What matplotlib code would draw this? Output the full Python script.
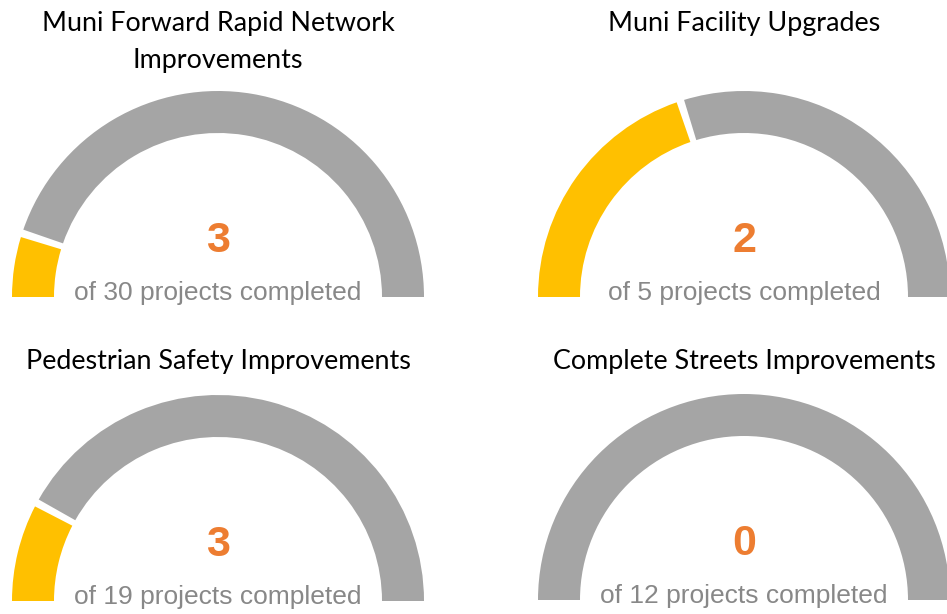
import matplotlib
matplotlib.use("Agg")
import matplotlib.pyplot as plt
from matplotlib.patches import Wedge

# --- data ---
titles = [
    "Muni Forward Rapid Network\nImprovements",
    "Muni Facility Upgrades",
    "Pedestrian Safety Improvements",
    "Complete Streets Improvements",
]
completed = [3, 2, 3, 0]
totals = [30, 5, 19, 12]

# layout (pixels, y measured from top)
W, H = 947, 614
centers = [(218, 297), (744, 297), (218, 601), (744, 600)]
title_y = [42, 23, 362, 362]
R_OUT = 206
RING = 42
GAP_PX = 7

GOLD = "#FFC000"
GRAY = "#A5A5A5"
ORANGE = "#ED7D31"
TEXT_GRAY = "#888888"

fig = plt.figure(figsize=(W / 100, H / 100), dpi=100, facecolor="white")
ax = fig.add_axes([0, 0, 1, 1])
ax.set_xlim(0, W)
ax.set_ylim(0, H)
ax.set_aspect("equal")
ax.axis("off")

gap_deg = GAP_PX / (R_OUT - RING / 2) * 180 / 3.14159

for (cx, cy), title, ty, done, total in zip(centers, titles, title_y, completed, totals):
    y0 = H - cy
    split = 180 - 180 * done / total
    if done > 0:
        ax.add_patch(Wedge((cx, y0), R_OUT, split + gap_deg / 2, 180,
                           width=RING, color=GOLD, lw=0))
        ax.add_patch(Wedge((cx, y0), R_OUT, 0, split - gap_deg / 2,
                           width=RING, color=GRAY, lw=0))
    else:
        ax.add_patch(Wedge((cx, y0), R_OUT, 0, 180,
                           width=RING, color=GRAY, lw=0))

    ax.text(cx, y0 + 56, str(done), ha="center", va="center",
            fontsize=31, fontweight="bold", color=ORANGE,
            family="Liberation Sans")
    ax.text(cx, y0 - 3, f"of {total} projects completed", ha="center",
            va="baseline", fontsize=19, color=TEXT_GRAY,
            family="Liberation Sans")
    ax.text(cx, H - ty, title, ha="center", va="center", fontsize=19.4,
            color="black", family="Lato", linespacing=1.6)

plt.savefig("out.png", dpi=100, facecolor="white")
